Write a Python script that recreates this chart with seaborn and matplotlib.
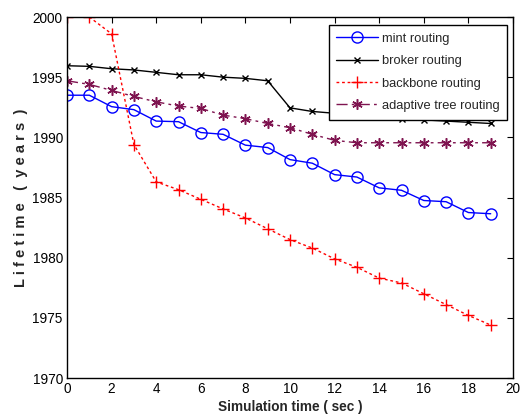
import matplotlib
matplotlib.use("Agg")
import matplotlib.pyplot as plt
import seaborn as sns
import pandas as pd

sns.set_style("white")
plt.rcParams['font.family'] = ['Liberation Sans', 'DejaVu Sans']

time = list(range(20))
mint = [1993.5, 1993.5, 1992.55, 1992.3, 1991.35, 1991.3, 1990.4, 1990.25, 1989.35, 1989.15,
        1988.15, 1987.85, 1986.9, 1986.7, 1985.8, 1985.6, 1984.75, 1984.65, 1983.75, 1983.65]
broker = [1995.95, 1995.9, 1995.7, 1995.6, 1995.4, 1995.2, 1995.2, 1995.0, 1994.9, 1994.7,
          1992.45, 1992.15, 1992.0, 1991.85, 1991.7, 1991.5, 1991.45, 1991.35, 1991.25, 1991.15]
backbone = [2000.0, 2000.0, 1998.6, 1989.4, 1986.3, 1985.65, 1984.85, 1984.05, 1983.3, 1982.4,
            1981.5, 1980.8, 1979.9, 1979.2, 1978.3, 1977.9, 1977.0, 1976.1, 1975.2, 1974.4]
adaptive = [1994.7, 1994.4, 1993.9, 1993.4, 1992.95, 1992.6, 1992.4, 1991.85, 1991.55, 1991.15,
            1990.8, 1990.25, 1989.75, 1989.55, 1989.55, 1989.55, 1989.55, 1989.55, 1989.55, 1989.55]
labels = ["mint routing", "broker routing", "backbone routing", "adaptive tree routing"]
xticks = list(range(0, 21, 2))
yticks = list(range(1970, 2001, 5))

fig = plt.figure(figsize=(5.21, 4.19), dpi=100)
ax = fig.add_axes([67/521, 1-378/419, (513-67)/521, (378-17)/419])

styles = [
    dict(color="#0000ff", linestyle="-", marker="o", markersize=8, markerfacecolor="none",
         markeredgecolor="#0000ff", markeredgewidth=1.0, linewidth=1.0),
    dict(color="#000000", linestyle="-", marker="x", markersize=4.5, markeredgecolor="#000000",
         markeredgewidth=1.0, linewidth=1.0),
    dict(color="#ff0000", linestyle=(0, (2, 2)), marker="+", markersize=9, markeredgecolor="#ff0000",
         markeredgewidth=1.0, linewidth=1.0),
    dict(color="#7f1450", linestyle=(0, (8, 3, 2, 3)), marker=(6, 2, 0), markersize=7.5,
         markeredgecolor="#7f1450", markeredgewidth=1.1, linewidth=1.0),
]
handles = []
for series, lab, st in zip([mint, broker, backbone, adaptive], labels, styles):
    df = pd.DataFrame({"t": time, "v": series})
    sns.lineplot(data=df, x="t", y="v", ax=ax, legend=False, errorbar=None)
    ln = ax.lines[-1]
    ln.set(**st)
    ln.set_label(lab)
    handles.append(ln)

ax.set_xlim(0, 20)
ax.set_ylim(1970, 2000)
ax.set_xticks(xticks)
ax.set_yticks(yticks)
ax.tick_params(direction="in", top=True, right=True, length=4, width=0.8, labelsize=9.8, pad=3,
               colors="black")
for s in ax.spines.values():
    s.set_visible(True)
    s.set_color("black")
    s.set_linewidth(1.0)
ax.set_xlabel("Simulation time ( sec )", fontsize=9.8, fontweight="bold", labelpad=3)
ax.set_ylabel("L i f e t i m e   (  y e a r s  )", fontsize=10.5, fontweight="bold", labelpad=3)

leg = ax.legend(handles=handles, labels=labels, loc="upper right",
                bbox_to_anchor=((507-67)/446, (378-25)/361), borderaxespad=0,
                fontsize=9.3, frameon=True, fancybox=False, edgecolor="black", framealpha=1,
                handlelength=3.2, borderpad=0.6, labelspacing=0.8, handletextpad=0.3)
leg.get_frame().set_linewidth(1.0)

fig.savefig("out.png", dpi=100)
